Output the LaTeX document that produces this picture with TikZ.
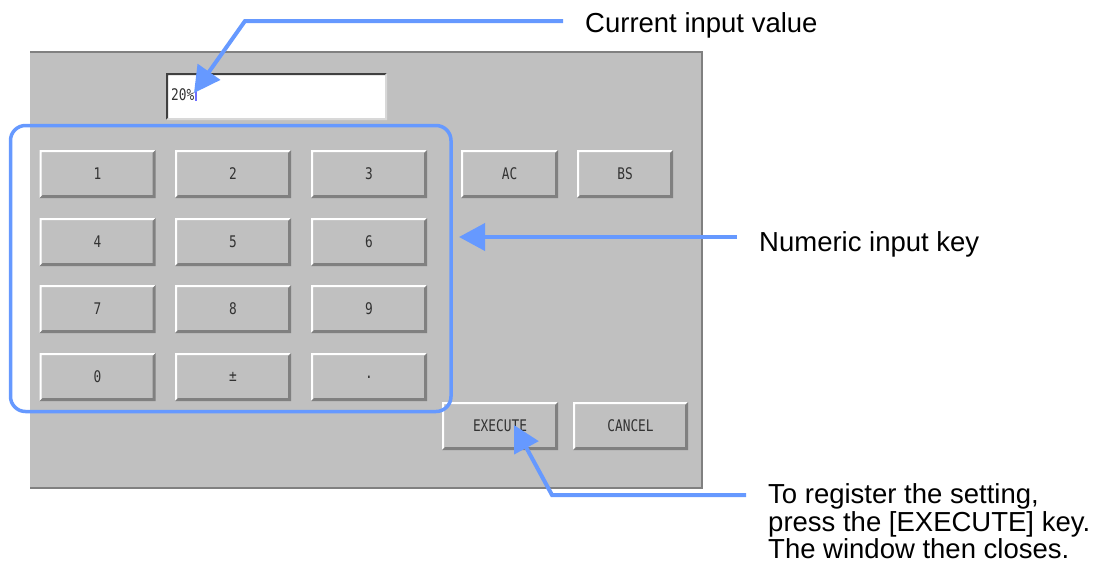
\documentclass[tikz,border=0pt]{standalone}
\usepackage{fontspec}
\setmainfont{Liberation Sans}
\newfontfamily\btnfont[FakeStretch=0.8]{DejaVu Sans Mono}
\usetikzlibrary{arrows.meta,calc}
\definecolor{callout}{RGB}{102,153,255}
\definecolor{keyface}{RGB}{192,192,192}
\definecolor{btnshade}{RGB}{128,128,128}
\definecolor{btntext}{RGB}{50,50,50}
\definecolor{sunkdark}{RGB}{64,64,64}
\definecolor{sunklight}{RGB}{216,216,216}
\definecolor{caret}{RGB}{110,110,255}
\begin{document}
\begin{tikzpicture}[x=1pt,y=-1pt,
  btnlabel/.style={font=\btnfont\fontsize{16}{16}\selectfont, text=btntext},
  keybtn/.style={btnlabel, fill=keyface, inner sep=0pt, minimum height=48pt, minimum width=116pt,
    path picture={
      \fill[white] (path picture bounding box.south west) -- (path picture bounding box.north west)
        -- (path picture bounding box.north east) -- ([shift={(-2pt,-2pt)}]path picture bounding box.north east)
        -- ([shift={(2pt,-2pt)}]path picture bounding box.north west) -- ([shift={(2pt,2pt)}]path picture bounding box.south west) -- cycle;
      \fill[btnshade] (path picture bounding box.south west) -- (path picture bounding box.south east)
        -- (path picture bounding box.north east) -- ([shift={(-3pt,-3pt)}]path picture bounding box.north east)
        -- ([shift={(-3pt,3pt)}]path picture bounding box.south east) -- ([shift={(3pt,3pt)}]path picture bounding box.south west) -- cycle;
    }},
  inputbox/.style={fill=white, inner sep=0pt, minimum height=47pt, minimum width=221pt,
    path picture={
      \fill[sunkdark] (path picture bounding box.south west) -- (path picture bounding box.north west)
        -- (path picture bounding box.north east) -- ([shift={(-2pt,-2pt)}]path picture bounding box.north east)
        -- ([shift={(2pt,-2pt)}]path picture bounding box.north west) -- ([shift={(2pt,2pt)}]path picture bounding box.south west) -- cycle;
      \fill[sunklight] (path picture bounding box.south west) -- (path picture bounding box.south east)
        -- (path picture bounding box.north east) -- ([shift={(-2pt,-2pt)}]path picture bounding box.north east)
        -- ([shift={(-2pt,2pt)}]path picture bounding box.south east) -- ([shift={(2pt,2pt)}]path picture bounding box.south west) -- cycle;
    }},
  lbl/.style={font=\fontsize{27.5}{27.5}\selectfont, inner sep=0pt, text=black},
  callarrow/.style={draw=callout, line width=4pt, -{Triangle[length=26pt,width=27pt]}},
  keypad/.style={draw=callout, line width=3.5pt, rounded corners=15pt}
]
\useasboundingbox (0,0) rectangle (1099,574);

% window panel
\fill[keyface] (30,52) rectangle (702,488);
\draw[btnshade, line width=1.2pt] (30,52) -- (702,52) -- (702,488) -- (30,488);

% input field
\node[inputbox] (field) at (276.5,96.5) {};
\node[btnlabel, anchor=west, inner sep=0pt] (val) at (171,95) {20\%};
\draw[caret, line width=1.2pt] ([xshift=1.5pt]val.east |- 0,88) -- ([xshift=1.5pt]val.east |- 0,101);

% numeric keys
\node[keybtn] (k1) at (97.5,174) {1};
\node[keybtn] (k2) at (233,174) {2};
\node[keybtn] (k3) at (369,174) {3};
\node[keybtn] (k4) at (97.5,242) {4};
\node[keybtn] (k5) at (233,242) {5};
\node[keybtn] (k6) at (369,242) {6};
\node[keybtn] (k7) at (97.5,309) {7};
\node[keybtn] (k8) at (233,309) {8};
\node[keybtn] (k9) at (369,309) {9};
\node[keybtn] (k0) at (97.5,377) {0};
\node[keybtn] (kpm) at (233,377) {±};
\node[keybtn] (kdot) at (369,377) {.};

% function keys
\node[keybtn, minimum width=97pt] (ac) at (509.5,174) {AC};
\node[keybtn, minimum width=96pt] (bs) at (625,174) {BS};
\node[keybtn] (exec) at (500,426) {EXECUTE};
\node[keybtn, minimum width=115pt] (cancel) at (630.5,426) {CANCEL};

% keypad frame
\draw[keypad] (10.5,125.5) rectangle (451,411.5);

% labels
\node[lbl, anchor=base west] (cur) at (585,32) {Current input value};
\node[lbl, anchor=base west] (num) at (759,251) {Numeric input key};
\node[lbl, anchor=north west, align=left] (reg) at (768,483.5) {To register the setting,\\press the [EXECUTE] key.\\The window then closes.};

% callout arrows
\coordinate (s1) at (563,21);
\coordinate (c1) at (245,21);
\coordinate (t1) at (194,93);
\draw[callarrow] (s1) -- (c1) -- (t1);

\coordinate (s2) at (737,237);
\coordinate (t2) at (459,237);
\draw[callarrow] (s2) -- (t2);

\coordinate (s3) at (746,495);
\coordinate (c3) at (552,495);
\coordinate (t3) at (514,425);
\draw[callarrow] (s3) -- (c3) -- (t3);
\end{tikzpicture}
\end{document}
